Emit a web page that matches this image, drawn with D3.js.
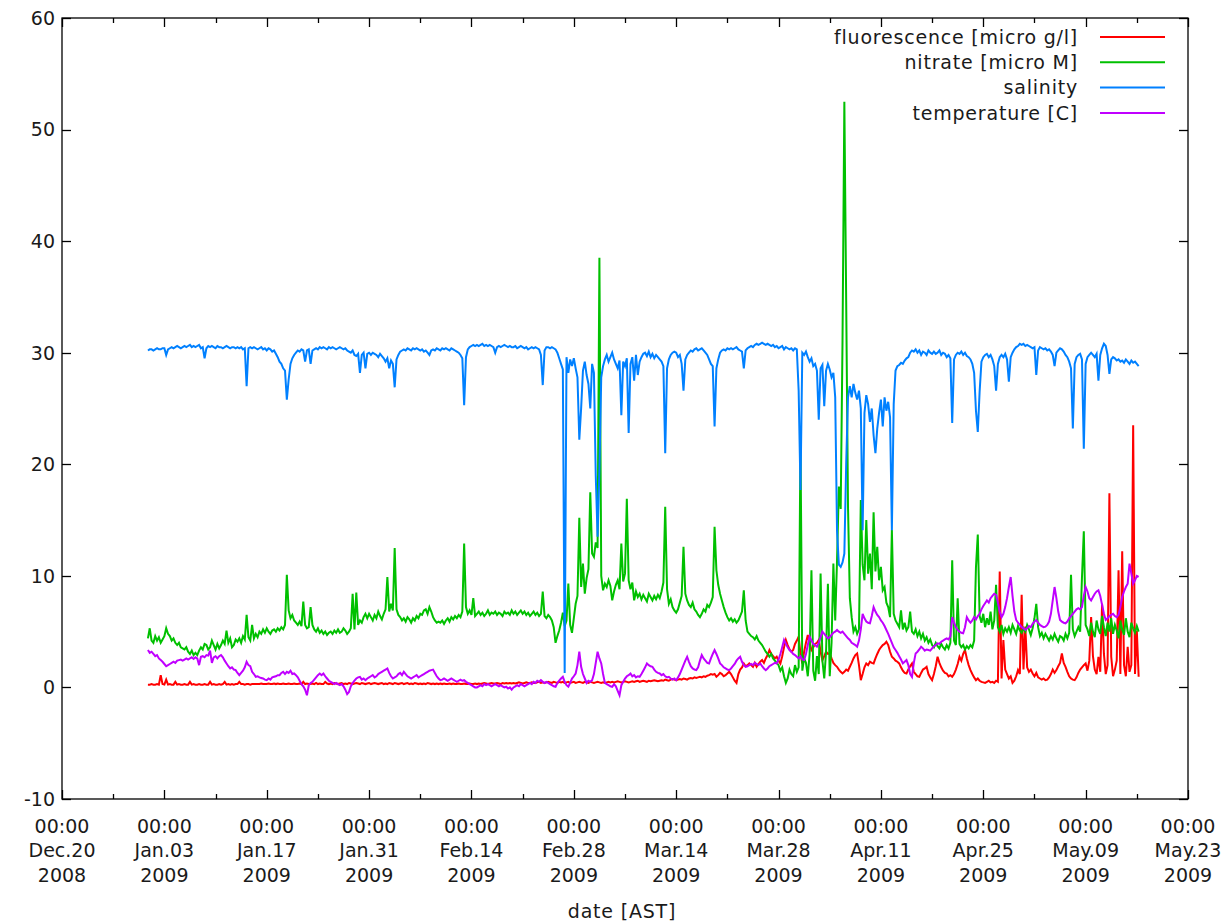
<!DOCTYPE html>
<html>
<head>
<meta charset="utf-8">
<script src="https://cdn.jsdelivr.net/npm/d3@7"></script>
<style>
  body { margin: 0; background: #fff; }
  svg text { font-family: "DejaVu Sans", sans-serif; font-size: 19px; fill: #1a1a1a; }
  svg text.wide { letter-spacing: 0.8px; }
</style>
</head>
<body>
<svg id="chart" width="1224" height="924"></svg>
<script>
// Mooring record, one sample every 6 hours starting 2008-12-31 18:00 (AST)
const sampleStart = "2008-12-31T18:00:00Z";
const sampleHours = 6;

const seriesNames = ["fluorescence [micro g/l]", "nitrate [micro M]", "salinity", "temperature [C]"];
const seriesColors = ["#ff0000", "#00c000", "#0080ff", "#c000ff"];

const fluorescence = [
  0.25,0.25,0.3,0.25,0.25,0.3,0.25,1.1,0.3,0.25,
  0.7,0.25,0.3,0.25,0.25,0.5,0.25,0.3,0.25,0.25,
  0.3,0.25,0.25,0.5,0.25,0.3,0.25,0.25,0.3,0.25,
  0.25,0.3,0.25,0.25,0.5,0.25,0.3,0.25,0.25,0.3,
  0.25,0.3,0.5,0.25,0.3,0.25,0.3,0.25,0.3,0.3,
  0.5,0.3,0.3,0.25,0.3,0.3,0.25,0.3,0.3,0.3,
  0.3,0.3,0.35,0.3,0.3,0.3,0.35,0.3,0.3,0.35,
  0.3,0.35,0.3,0.3,0.35,0.3,0.3,0.35,0.3,0.3,
  0.35,0.3,0.3,0.35,0.3,0.5,0.3,0.35,0.3,0.3,
  0.35,0.3,0.4,0.3,0.35,0.3,0.3,0.5,0.35,0.3,
  0.35,0.3,0.4,0.35,0.3,0.35,0.4,0.3,0.35,0.3,
  0.4,0.35,0.3,0.35,0.4,0.35,0.3,0.4,0.35,0.3,
  0.35,0.4,0.3,0.35,0.4,0.35,0.3,0.35,0.4,0.3,
  0.35,0.3,0.4,0.35,0.3,0.4,0.35,0.3,0.35,0.4,
  0.3,0.35,0.4,0.3,0.35,0.3,0.4,0.35,0.3,0.35,
  0.3,0.35,0.3,0.4,0.35,0.3,0.35,0.3,0.35,0.3,
  0.35,0.3,0.35,0.3,0.3,0.35,0.3,0.35,0.3,0.3,
  0.35,0.3,0.3,0.35,0.3,0.3,0.35,0.3,0.3,0.35,
  0.3,0.35,0.3,0.35,0.4,0.35,0.3,0.35,0.4,0.35,
  0.35,0.4,0.35,0.3,0.4,0.35,0.4,0.35,0.4,0.35,
  0.4,0.35,0.4,0.45,0.4,0.35,0.4,0.45,0.4,0.4,
  0.45,0.4,0.4,0.45,0.5,0.4,0.45,0.4,0.45,0.5,
  0.45,0.4,0.5,0.45,0.4,0.5,0.45,0.5,0.4,0.45,
  0.5,0.4,0.45,0.5,0.4,0.45,0.5,0.45,0.4,0.5,
  0.45,0.4,0.5,0.45,0.4,0.45,0.5,0.45,0.4,0.45,
  0.4,0.45,0.5,0.45,0.5,0.45,0.5,0.55,0.5,0.45,
  0.5,0.55,0.5,0.45,0.5,0.55,0.5,0.55,0.6,0.5,
  0.55,0.6,0.55,0.5,0.6,0.55,0.6,0.65,0.6,0.55,
  0.6,0.65,0.6,0.7,0.65,0.6,0.7,0.75,0.7,0.65,
  0.7,0.75,0.7,0.8,0.75,0.7,0.8,0.85,0.8,0.9,
  0.85,0.9,0.95,0.9,1.0,0.95,1.05,1.1,1.2,1.15,
  1.2,0.95,1.1,1.3,1.2,1.0,1.1,1.25,1.4,1.2,
  0.9,0.6,0.4,1.2,1.6,1.8,2.15,1.9,2.0,2.15,
  2.0,1.85,2.2,1.85,2.1,2.3,2.45,2.2,2.6,2.9,
  3.35,3.0,2.8,2.6,2.75,2.4,2.15,2.8,3.6,4.25,
  3.8,3.4,3.2,3.35,3.9,4.2,4.55,3.0,2.15,3.2,
  4.0,4.7,4.0,3.35,3.6,3.9,4.0,4.25,3.2,2.45,
  2.8,3.2,3.0,3.05,2.6,2.2,2.0,1.85,1.6,1.4,
  1.25,1.4,1.6,1.5,1.85,2.2,2.6,2.9,3.05,2.0,
  0.65,1.2,1.8,2.15,2.0,2.3,2.2,2.15,2.6,3.0,
  3.35,3.6,3.8,3.9,4.1,3.8,3.2,2.75,2.6,2.4,
  2.3,2.15,1.8,1.5,1.3,1.25,1.6,1.9,2.15,1.4,
  1.2,1.0,0.95,1.3,1.6,1.7,1.85,1.2,0.9,0.65,
  1.2,1.9,2.75,2.2,1.8,1.5,1.3,1.25,1.0,1.1,
  0.95,1.2,1.6,2.1,2.75,2.4,3.0,3.35,2.6,2.0,
  1.55,1.2,0.9,0.65,0.8,0.6,0.5,0.45,0.4,0.5,
  0.6,0.45,0.5,0.4,0.6,0.5,10.4,0.8,4.25,1.6,
  1.2,0.8,1.0,0.4,0.6,1.0,1.55,1.2,8.3,1.6,
  5.45,1.8,1.4,1.6,1.25,1.0,1.3,0.9,0.8,0.7,
  0.8,0.65,0.7,0.9,1.2,1.6,1.3,1.55,1.9,2.2,
  3.05,2.2,1.85,1.4,1.0,0.8,0.7,0.65,0.9,1.3,
  1.6,1.8,2.0,2.15,1.5,2.4,6.3,2.8,1.6,1.2,
  2.75,1.4,7.5,3.0,1.2,2.0,17.4,2.75,1.0,1.6,
  2.4,10.5,1.2,12.2,2.0,1.0,3.65,1.4,2.0,23.5,
  1.2,5.1,0.95
];

const nitrate = [
  4.4,5.3,4.2,4.0,4.6,4.2,4.5,4.0,4.3,4.6,
  5.3,4.8,4.6,4.2,4.4,4.0,3.8,4.0,3.6,3.5,
  3.4,3.6,3.2,3.0,3.3,2.9,3.1,2.9,3.3,3.6,
  3.4,3.9,3.8,3.4,3.6,4.2,3.8,3.4,3.9,3.5,
  3.8,4.2,3.9,5.1,4.0,4.4,3.6,3.8,4.3,4.1,
  4.4,4.0,4.6,4.3,6.5,4.5,4.2,5.6,4.4,4.8,
  4.5,5.0,4.8,5.2,4.9,5.3,5.0,4.8,5.1,5.2,
  5.0,5.3,5.1,5.4,5.2,5.6,10.1,6.9,6.2,6.5,
  6.0,5.8,5.6,5.9,5.5,7.7,5.6,5.3,5.4,7.2,
  5.6,5.2,5.0,5.3,4.9,5.1,4.8,5.0,4.7,4.9,
  5.0,4.8,5.1,4.9,5.2,4.9,5.0,5.3,5.1,4.8,
  5.0,5.3,8.4,5.2,8.5,5.6,6.0,5.8,6.3,6.6,
  6.2,6.6,6.3,6.0,6.5,6.2,6.8,6.4,6.1,6.6,
  7.0,9.9,6.8,7.5,6.9,12.5,7.0,6.5,6.3,6.0,
  6.2,5.9,6.3,6.1,5.8,6.2,6.0,6.4,6.2,6.6,
  6.5,6.9,7.0,6.6,7.2,6.8,6.3,6.0,5.8,5.9,
  5.8,6.0,5.7,6.0,6.2,5.9,6.3,6.1,6.4,6.2,
  6.5,6.3,6.8,12.9,7.2,6.6,6.9,6.5,8.0,6.4,
  6.6,6.8,6.5,6.7,6.4,6.6,6.9,6.5,6.7,6.6,
  6.8,6.5,6.7,6.6,6.4,6.8,6.6,6.7,6.5,6.9,
  6.6,6.8,6.5,6.7,6.9,6.6,6.8,6.5,6.7,6.4,
  6.6,6.8,6.5,6.7,6.4,6.6,8.6,6.4,6.2,6.5,
  6.3,6.0,5.4,4.0,4.6,5.1,5.8,6.7,5.5,6.0,
  9.3,5.6,4.9,6.2,7.5,8.2,15.2,9.0,11.1,8.4,
  9.8,10.6,17.5,12.0,11.7,13.0,12.5,38.5,10.0,8.7,
  9.3,9.0,9.6,9.1,7.8,8.6,9.2,9.6,8.8,12.9,
  9.5,10.2,16.9,9.6,8.8,9.4,7.8,8.6,8.1,8.4,
  7.9,8.3,8.0,7.7,8.4,8.1,7.8,8.2,7.9,8.3,
  8.0,8.6,9.4,16.2,8.8,7.5,7.9,7.2,6.9,6.7,
  7.0,7.6,8.2,12.6,8.4,7.8,7.4,7.2,7.6,7.0,
  6.8,6.5,6.3,6.6,7.0,6.8,7.4,7.2,7.6,8.1,
  14.4,10.5,9.2,8.4,7.8,7.2,6.7,6.3,6.0,6.2,
  5.9,6.1,5.8,6.0,6.4,6.8,8.7,6.0,5.0,4.8,
  4.6,4.5,4.3,4.6,4.2,4.0,3.8,3.5,3.2,3.0,
  2.75,3.0,2.6,2.4,2.2,2.0,1.5,1.8,1.0,0.4,
  0.8,1.6,1.2,1.0,2.0,1.4,1.8,22.0,1.5,2.6,
  2.2,1.0,3.0,10.5,1.5,0.6,2.8,1.2,10.2,2.4,
  0.8,3.2,9.3,1.0,4.0,11.1,6.0,11.4,18.0,16.0,
  31.1,52.5,34.7,16.2,8.0,6.3,5.0,5.4,4.8,5.2,
  16.8,11.0,9.6,15.0,10.2,12.0,8.8,15.7,10.4,12.6,
  9.6,10.8,8.7,9.0,7.6,7.2,6.3,14.1,6.6,6.0,
  5.7,5.4,6.9,5.2,5.8,5.1,5.4,6.8,5.0,4.8,
  5.2,4.6,5.0,4.4,4.8,4.2,4.5,4.0,4.3,3.8,
  3.6,4.0,3.7,3.5,3.9,3.6,3.4,3.8,3.5,4.0,
  11.4,4.2,3.8,8.0,3.9,3.6,3.8,3.4,3.7,3.5,
  3.8,3.6,4.2,10.8,13.7,6.4,5.8,6.6,5.4,6.2,
  5.6,6.8,5.2,6.0,9.2,5.4,5.0,5.6,4.8,5.3,
  5.0,5.4,4.9,5.6,5.2,4.8,5.5,5.1,4.9,5.3,
  5.0,5.6,5.2,4.7,5.3,6.2,7.5,5.4,4.6,4.9,
  4.4,4.8,4.5,4.2,4.6,4.3,4.8,4.4,4.1,4.6,
  4.5,4.2,4.8,4.4,4.9,10.1,5.2,4.6,5.0,5.4,
  5.0,9.9,14.0,5.6,5.2,4.6,5.8,5.0,4.5,6.0,
  5.2,4.8,6.4,5.4,4.6,5.8,5.0,6.2,4.8,5.6,
  5.1,4.4,6.0,5.2,4.7,6.2,5.0,4.5,5.8,5.3,
  4.9,5.5,5.0
];

const salinity = [
  30.2,30.3,30.3,30.2,30.3,30.4,30.3,30.3,30.4,30.4,
  29.8,30.3,30.4,30.5,30.4,30.5,30.6,30.5,30.4,30.5,
  30.6,30.5,30.6,30.7,30.5,30.6,30.5,30.6,30.7,30.4,
  30.5,29.5,30.4,30.6,30.5,30.6,30.5,30.4,30.6,30.5,
  30.5,30.4,30.5,30.6,30.5,30.4,30.5,30.5,30.4,30.5,
  30.4,30.5,30.3,30.4,27.0,30.4,30.5,30.4,30.5,30.4,
  30.3,30.4,30.5,30.3,30.4,30.2,30.4,30.3,30.1,30.2,
  29.9,29.6,29.2,29.0,28.6,28.4,25.8,27.6,29.0,29.5,
  29.8,30.0,30.2,30.1,30.3,30.2,29.2,30.2,30.3,29.0,
  30.2,30.3,30.4,30.3,30.5,30.4,30.5,30.4,30.3,30.5,
  30.4,30.5,30.4,30.3,30.4,30.5,30.4,30.3,30.4,30.2,
  30.1,30.0,30.2,29.8,29.7,29.9,28.2,29.8,30.0,28.6,
  29.9,30.0,29.8,30.0,29.9,29.8,29.6,29.9,29.7,29.5,
  29.2,29.5,28.6,29.3,29.0,26.9,29.4,29.8,30.1,30.2,
  30.3,30.2,30.4,30.3,30.2,30.4,30.3,30.4,30.3,30.2,
  30.3,30.1,30.2,30.0,29.8,30.2,30.3,30.2,30.4,30.3,
  30.2,30.4,30.3,30.4,30.3,30.2,30.4,30.3,30.2,30.1,
  30.0,29.8,29.5,25.3,29.6,30.3,30.5,30.6,30.7,30.6,
  30.7,30.6,30.7,30.8,30.6,30.7,30.6,30.7,30.6,30.5,
  30.0,30.5,30.6,30.5,30.6,30.7,30.6,30.5,30.6,30.5,
  30.5,30.6,30.4,30.5,30.6,30.5,30.4,30.5,30.3,30.4,
  30.5,30.4,30.5,30.4,30.3,29.8,27.1,30.2,30.5,30.5,
  30.4,30.5,30.4,30.3,30.0,29.5,29.0,28.5,1.3,29.6,
  28.2,29.4,28.8,29.5,28.6,27.8,22.2,25.0,28.4,29.2,
  28.0,27.2,25.0,29.0,28.2,19.0,13.5,19.5,27.8,28.8,
  29.4,29.8,29.2,29.6,30.0,29.4,29.0,28.6,29.3,24.4,
  29.2,28.8,29.5,22.8,29.0,29.6,27.5,29.8,28.0,29.2,
  29.6,29.9,30.0,29.7,30.1,29.6,29.9,29.5,29.8,29.6,
  29.4,29.2,28.8,21.0,28.6,29.4,29.8,30.0,30.1,30.0,
  29.6,29.8,29.0,26.6,29.4,29.8,30.0,30.2,30.1,30.3,
  30.4,30.2,30.3,30.4,30.2,30.0,29.8,29.4,29.0,28.8,
  23.4,28.6,29.4,30.0,30.2,30.3,30.2,30.4,30.3,30.4,
  30.3,30.4,30.5,30.3,30.2,30.1,28.6,30.2,30.4,30.5,
  30.6,30.5,30.7,30.8,30.7,30.8,30.9,30.8,30.7,30.8,
  30.7,30.6,30.7,30.5,30.6,30.4,30.5,30.6,30.3,30.5,
  30.4,30.3,30.4,30.2,30.4,30.3,26.6,17.7,30.0,29.8,
  30.1,29.6,29.2,29.5,28.8,29.0,28.4,24.0,28.6,28.9,
  25.2,28.4,29.0,28.5,27.8,28.2,26.0,14.0,11.0,10.8,
  11.2,12.0,20.0,26.0,27.0,26.0,27.2,26.4,25.8,26.6,
  25.0,14.1,24.6,26.2,25.4,23.8,25.0,22.6,21.0,23.2,
  24.6,25.8,23.4,26.0,24.8,25.6,24.2,14.1,25.4,28.4,
  28.8,28.9,29.1,29.0,29.3,29.5,29.6,30.0,30.2,30.1,
  30.3,30.0,30.2,29.8,30.1,30.0,29.8,30.2,30.0,29.9,
  30.1,29.9,30.0,30.2,29.8,30.0,29.9,29.6,29.8,29.5,
  23.7,29.4,29.8,30.0,29.9,30.1,29.8,30.0,29.7,29.6,
  29.4,29.0,28.2,24.8,22.9,26.5,29.2,29.6,29.8,29.9,
  29.6,29.8,29.4,28.8,26.6,29.0,29.6,29.8,29.6,29.9,
  29.4,27.4,29.6,30.0,30.3,30.5,30.6,30.8,30.7,30.8,
  30.6,30.7,30.6,30.5,30.4,30.5,28.0,30.2,30.5,30.4,
  30.3,30.4,30.2,30.3,30.1,29.8,28.8,30.0,30.2,30.4,
  30.3,30.1,29.8,29.6,29.2,28.6,23.2,29.0,29.6,29.8,
  29.9,29.4,21.4,29.0,29.6,29.8,30.0,29.8,29.6,29.9,
  27.5,29.8,30.4,30.8,30.6,29.8,28.1,29.4,29.6,29.5,
  29.3,29.4,29.2,29.3,29.1,29.4,29.2,29.0,29.3,29.1,
  29.2,29.0,28.8
];

const temperature = [
  3.35,3.1,3.2,3.0,2.8,2.9,2.6,2.45,2.3,2.1,
  1.9,2.0,2.1,2.2,2.3,2.2,2.4,2.45,2.5,2.4,
  2.5,2.6,2.5,2.6,2.7,2.55,2.7,2.6,2.0,2.75,
  2.8,2.7,2.9,2.85,3.3,2.2,2.7,2.8,2.6,2.8,
  2.9,2.7,2.4,2.15,1.9,1.7,1.8,1.6,1.55,1.3,
  1.1,1.3,1.5,1.8,2.3,2.0,1.9,1.4,1.2,0.95,
  1.0,0.9,0.85,0.8,0.7,0.65,0.8,0.7,0.9,0.95,
  1.0,1.1,1.1,1.3,1.4,1.2,1.4,1.3,1.5,1.2,
  1.25,1.1,0.9,0.6,0.3,0.1,-0.2,-0.7,0.2,0.4,
  0.5,0.7,0.9,1.1,1.25,1.1,1.25,1.0,0.8,0.6,
  0.5,0.4,0.3,0.4,0.3,0.2,0.3,0.1,-0.2,-0.6,
  -0.4,0.1,0.4,0.6,0.8,0.9,0.95,0.7,0.8,0.65,
  0.8,0.9,1.0,1.1,0.9,1.0,1.2,1.3,1.4,1.5,
  1.6,1.7,1.3,1.0,0.8,0.9,1.0,1.2,1.3,1.1,
  1.4,1.2,1.0,0.9,0.8,0.9,1.0,1.1,0.9,1.0,
  1.1,1.2,1.3,1.4,1.5,1.55,1.6,1.3,1.0,0.8,
  0.65,0.7,0.8,0.7,0.6,0.7,0.8,0.7,0.6,0.5,
  0.6,0.7,0.6,0.65,0.5,0.4,0.3,0.2,0.1,0.0,
  0.0,0.1,0.2,0.1,0.3,0.2,0.3,0.2,0.1,0.2,
  0.3,0.2,0.1,0.2,0.1,0.0,0.06,-0.1,0.0,-0.2,
  0.0,0.1,0.2,0.1,0.3,0.2,0.1,0.2,0.3,0.4,
  0.3,0.5,0.4,0.6,0.5,0.65,0.5,0.4,0.5,0.4,
  0.3,0.2,0.1,0.06,0.4,0.6,0.8,0.95,0.5,0.2,
  0.06,0.4,0.8,1.0,1.25,2.0,3.2,1.85,1.2,0.8,
  0.4,0.6,0.5,0.65,1.2,2.2,3.2,2.6,2.15,1.2,
  0.4,0.3,0.2,0.1,0.06,0.3,0.1,-0.3,-0.7,0.2,
  0.5,0.8,1.0,1.1,1.25,1.0,1.1,0.9,1.0,0.95,
  1.2,1.5,1.8,2.15,2.0,1.9,1.85,1.6,1.4,1.3,
  1.25,1.1,1.2,1.0,0.9,0.95,0.8,0.7,0.8,0.65,
  0.9,1.2,1.6,2.0,2.4,2.75,2.3,1.9,1.7,1.6,
  1.55,1.8,2.4,2.9,2.6,2.4,2.2,2.15,2.6,3.0,
  3.35,3.0,2.6,2.15,2.0,1.8,1.7,1.6,1.55,1.7,
  1.9,2.1,2.4,2.6,2.75,2.3,2.0,1.85,1.9,2.0,
  2.1,2.0,2.2,2.1,2.0,2.15,1.9,1.7,1.55,1.7,
  1.9,2.0,2.1,2.2,2.15,2.5,3.0,3.6,4.25,3.9,
  3.6,3.35,3.2,3.0,2.9,2.75,2.6,2.8,2.5,2.45,
  3.0,3.8,4.55,4.2,3.9,3.8,3.65,4.0,4.5,5.0,
  4.8,4.6,4.4,4.5,4.7,4.9,5.0,5.15,5.0,4.9,
  5.0,4.8,4.6,4.4,4.25,4.0,3.9,3.8,3.65,4.2,
  5.2,6.6,6.2,5.9,5.8,5.75,6.4,7.2,6.8,6.5,
  6.3,6.0,5.8,5.5,5.15,4.8,4.4,4.0,3.6,3.35,
  3.1,2.8,2.5,2.15,2.3,2.45,2.0,1.2,0.95,2.2,
  3.05,3.2,3.4,3.65,3.5,3.3,3.4,3.35,3.3,3.5,
  3.7,3.8,3.95,3.9,4.1,4.2,4.3,4.4,4.3,4.6,
  6.3,5.8,5.4,5.15,5.0,4.9,4.85,5.4,6.3,6.0,
  5.8,6.0,6.3,6.1,6.4,6.6,7.0,7.3,7.55,7.8,
  7.6,8.0,8.2,8.4,8.3,7.6,6.8,6.3,6.6,7.2,
  8.0,9.0,9.9,8.2,6.8,6.05,5.8,5.6,5.4,5.3,
  5.15,5.3,5.5,5.4,5.7,5.9,6.05,5.8,5.6,5.5,
  5.4,5.45,5.6,5.9,6.6,7.8,9.0,8.0,6.8,6.05,
  5.9,5.8,5.75,5.9,6.2,6.4,6.6,6.8,7.0,7.1,
  7.0,7.2,8.2,9.0,8.6,8.0,7.8,8.1,8.4,8.6,
  8.7,8.2,7.4,6.6,6.05,6.2,6.4,6.5,6.6,6.4,
  6.3,6.5,7.2,8.1,8.6,9.0,9.3,11.1,10.2,9.3,
  9.6,10.0,9.9
];

const yTicks = [-10, 0, 10, 20, 30, 40, 50, 60];
const xTickDays = [0, 14, 28, 42, 56, 70, 84, 98, 112, 126, 140, 154]; // days after the axis start
const xMinorDays = [7, 21, 35, 49, 63, 77, 91, 105, 119, 133, 147];
const axisStart = "2008-12-20T00:00:00Z";
const axisEnd = "2009-05-23T00:00:00Z";
const xTitle = "date [AST]";

const svg = d3.select("#chart");
const W = 1224, H = 924;
const plot = { left: 62, right: 1188, top: 18, bottom: 799 };

svg.append("rect").attr("width", W).attr("height", H).attr("fill", "#fff");

const x = d3.scaleUtc()
  .domain([new Date(axisStart), new Date(axisEnd)])
  .range([plot.left, plot.right]);
const y = d3.scaleLinear().domain([-10, 60]).range([plot.bottom, plot.top]);

const t0 = new Date(sampleStart);
const timeAt = i => d3.utcHour.offset(t0, i * sampleHours);

const allSeries = [fluorescence, nitrate, salinity, temperature];

// data lines, drawn in legend order
const lineGen = d3.line()
  .x((d, i) => x(timeAt(i)))
  .y(d => y(d));

const gLines = svg.append("g");
allSeries.forEach((vals, k) => {
  gLines.append("path")
    .datum(vals)
    .attr("fill", "none")
    .attr("stroke", seriesColors[k])
    .attr("stroke-width", 2)
    .attr("stroke-linejoin", "miter")
    .attr("d", lineGen);
});

// frame and ticks
const gAxis = svg.append("g").attr("stroke", "#000").attr("stroke-width", 1.3);
gAxis.append("rect")
  .attr("x", plot.left).attr("y", plot.top)
  .attr("width", plot.right - plot.left).attr("height", plot.bottom - plot.top)
  .attr("fill", "none");

const majorLen = 9, minorLen = 5;
yTicks.forEach(v => {
  const yy = Math.round(y(v)) + 0.5;
  gAxis.append("line").attr("x1", plot.left).attr("x2", plot.left + majorLen).attr("y1", yy).attr("y2", yy);
  gAxis.append("line").attr("x1", plot.right).attr("x2", plot.right - majorLen).attr("y1", yy).attr("y2", yy);
});
const xStart = new Date(axisStart);
xTickDays.forEach(d => {
  const xx = Math.round(x(d3.utcDay.offset(xStart, d))) + 0.5;
  gAxis.append("line").attr("x1", xx).attr("x2", xx).attr("y1", plot.bottom).attr("y2", plot.bottom - majorLen);
  gAxis.append("line").attr("x1", xx).attr("x2", xx).attr("y1", plot.top).attr("y2", plot.top + majorLen);
});
xMinorDays.forEach(d => {
  const xx = Math.round(x(d3.utcDay.offset(xStart, d))) + 0.5;
  gAxis.append("line").attr("x1", xx).attr("x2", xx).attr("y1", plot.bottom).attr("y2", plot.bottom - minorLen);
  gAxis.append("line").attr("x1", xx).attr("x2", xx).attr("y1", plot.top).attr("y2", plot.top + minorLen);
});

// y tick labels
const gY = svg.append("g");
yTicks.forEach(v => {
  gY.append("text")
    .attr("x", plot.left - 7)
    .attr("y", y(v))
    .attr("dy", "0.36em")
    .attr("text-anchor", "end")
    .text(v);
});

// x tick labels: time, month.day, year
const fTime = d3.utcFormat("%H:%M");
const fDay = d3.utcFormat("%b.%d");
const fYear = d3.utcFormat("%Y");
const gX = svg.append("g");
xTickDays.forEach(d => {
  const dt = d3.utcDay.offset(xStart, d);
  const xx = x(dt);
  [fTime(dt), fDay(dt), fYear(dt)].forEach((s, j) => {
    gX.append("text")
      .attr("x", xx)
      .attr("y", 826 + j * 24.5)
      .attr("dy", "0.36em")
      .attr("text-anchor", "middle")
      .text(s);
  });
});

svg.append("text")
  .attr("class", "wide")
  .attr("x", (plot.left + plot.right) / 2 - 3)
  .attr("y", 911)
  .attr("dy", "0.36em")
  .attr("text-anchor", "middle")
  .text(xTitle);

// legend
const gLeg = svg.append("g");
seriesNames.forEach((name, k) => {
  const yy = 37 + k * 25.3;
  gLeg.append("text")
    .attr("class", "wide")
    .attr("x", 1078).attr("y", yy).attr("dy", "0.36em")
    .attr("text-anchor", "end")
    .text(name);
  gLeg.append("line")
    .attr("x1", 1100).attr("x2", 1165)
    .attr("y1", yy).attr("y2", yy)
    .attr("stroke", seriesColors[k])
    .attr("stroke-width", 2);
});
</script>
</body>
</html>
